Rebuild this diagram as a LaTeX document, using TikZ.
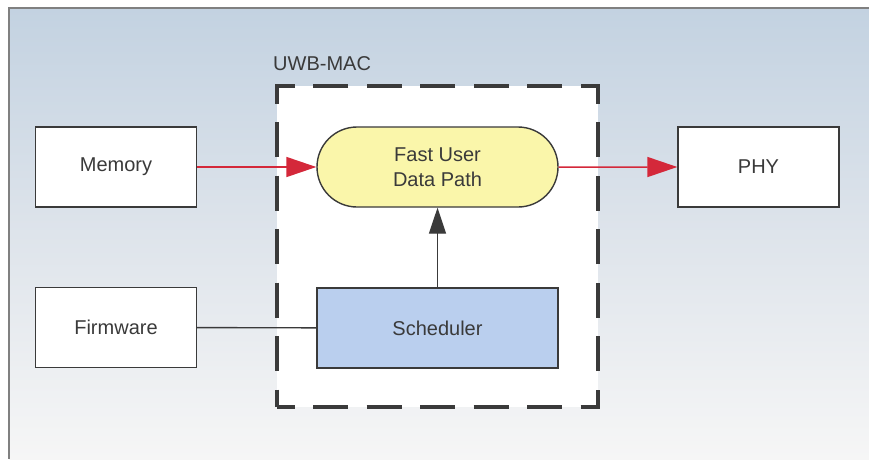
\documentclass[tikz,border=0pt]{standalone}
\usepackage{fontspec}
\setmainfont{Liberation Sans}
\usepackage{tikz}
\usetikzlibrary{%
  arrows.meta,
  positioning,
  shapes.misc
}

\definecolor{bgtop}{RGB}{195,210,225}
\definecolor{bgmid}{RGB}{222,228,235}
\definecolor{bgbot}{RGB}{246,246,246}
\definecolor{inkgray}{RGB}{58,58,58}
\definecolor{pathyellow}{RGB}{250,246,170}
\definecolor{schedblue}{RGB}{186,207,238}
\definecolor{datared}{RGB}{212,40,58}

\tikzset{
  every node/.style={text=inkgray, font=\fontsize{20}{25}\selectfont},
  plainbox/.style={draw=inkgray, line width=1.4pt, fill=white,
                   minimum width=161pt, minimum height=80pt, inner sep=0pt},
  macbox/.style={draw=inkgray, line width=4pt, fill=white,
                 dash pattern=on 35pt off 18.5pt, dash phase=17.5pt,
                 minimum width=321pt, minimum height=321pt, inner sep=0pt},
  pathbox/.style={rounded rectangle, draw=inkgray, line width=1.4pt,
                  fill=pathyellow, align=center,
                  minimum width=241pt, minimum height=80pt, inner sep=0pt},
  schedbox/.style={plainbox, fill=schedblue, minimum width=241pt},
  dataflow/.style={datared, line width=1.5pt,
                   -{Triangle[length=30pt, width=20pt]}},
  ctrlflow/.style={inkgray, line width=1.4pt,
                   -{Triangle[length=26pt, width=17pt]}},
  plainlink/.style={inkgray, line width=1.4pt}
}

\begin{document}
\begin{tikzpicture}[x=1pt, y=-1pt]
  \useasboundingbox (0,0) rectangle (869,459) ;

  % backdrop and frame
  \shade [top color=bgtop, bottom color=bgbot, middle color=bgmid]
        (9,8) rectangle (869,459) ;
  \draw [gray, line width=1.3pt] (869,8) -- (9,8) -- (9,459) ;

  % UWB-MAC container
  \node [macbox] (mac) at (437.5,246.5) {} ;
  \node [anchor=south west, inner sep=0pt] (maclabel)
        at ([xshift=-2pt, yshift=13pt]mac.north west) {UWB-MAC} ;

  % blocks
  \node [plainbox] (memory)   at (116,167)   {Memory} ;
  \node [plainbox] (firmware) at (116,327.5) {Firmware} ;
  \node [plainbox] (phy)      at (758.5,167) {PHY} ;
  \node [pathbox]  (fastpath) at (437.5,167) {Fast User\\Data Path} ;
  \node [schedbox] (sched)    at (437.5,328) {Scheduler} ;

  % connections
  \draw [dataflow] (memory) -- (fastpath) ;
  \draw [dataflow] (fastpath) -- (phy) ;
  \draw [ctrlflow] (sched) -- (fastpath) ;
  \draw [plainlink] (firmware) -- (sched) ;

\end{tikzpicture}
\end{document}
